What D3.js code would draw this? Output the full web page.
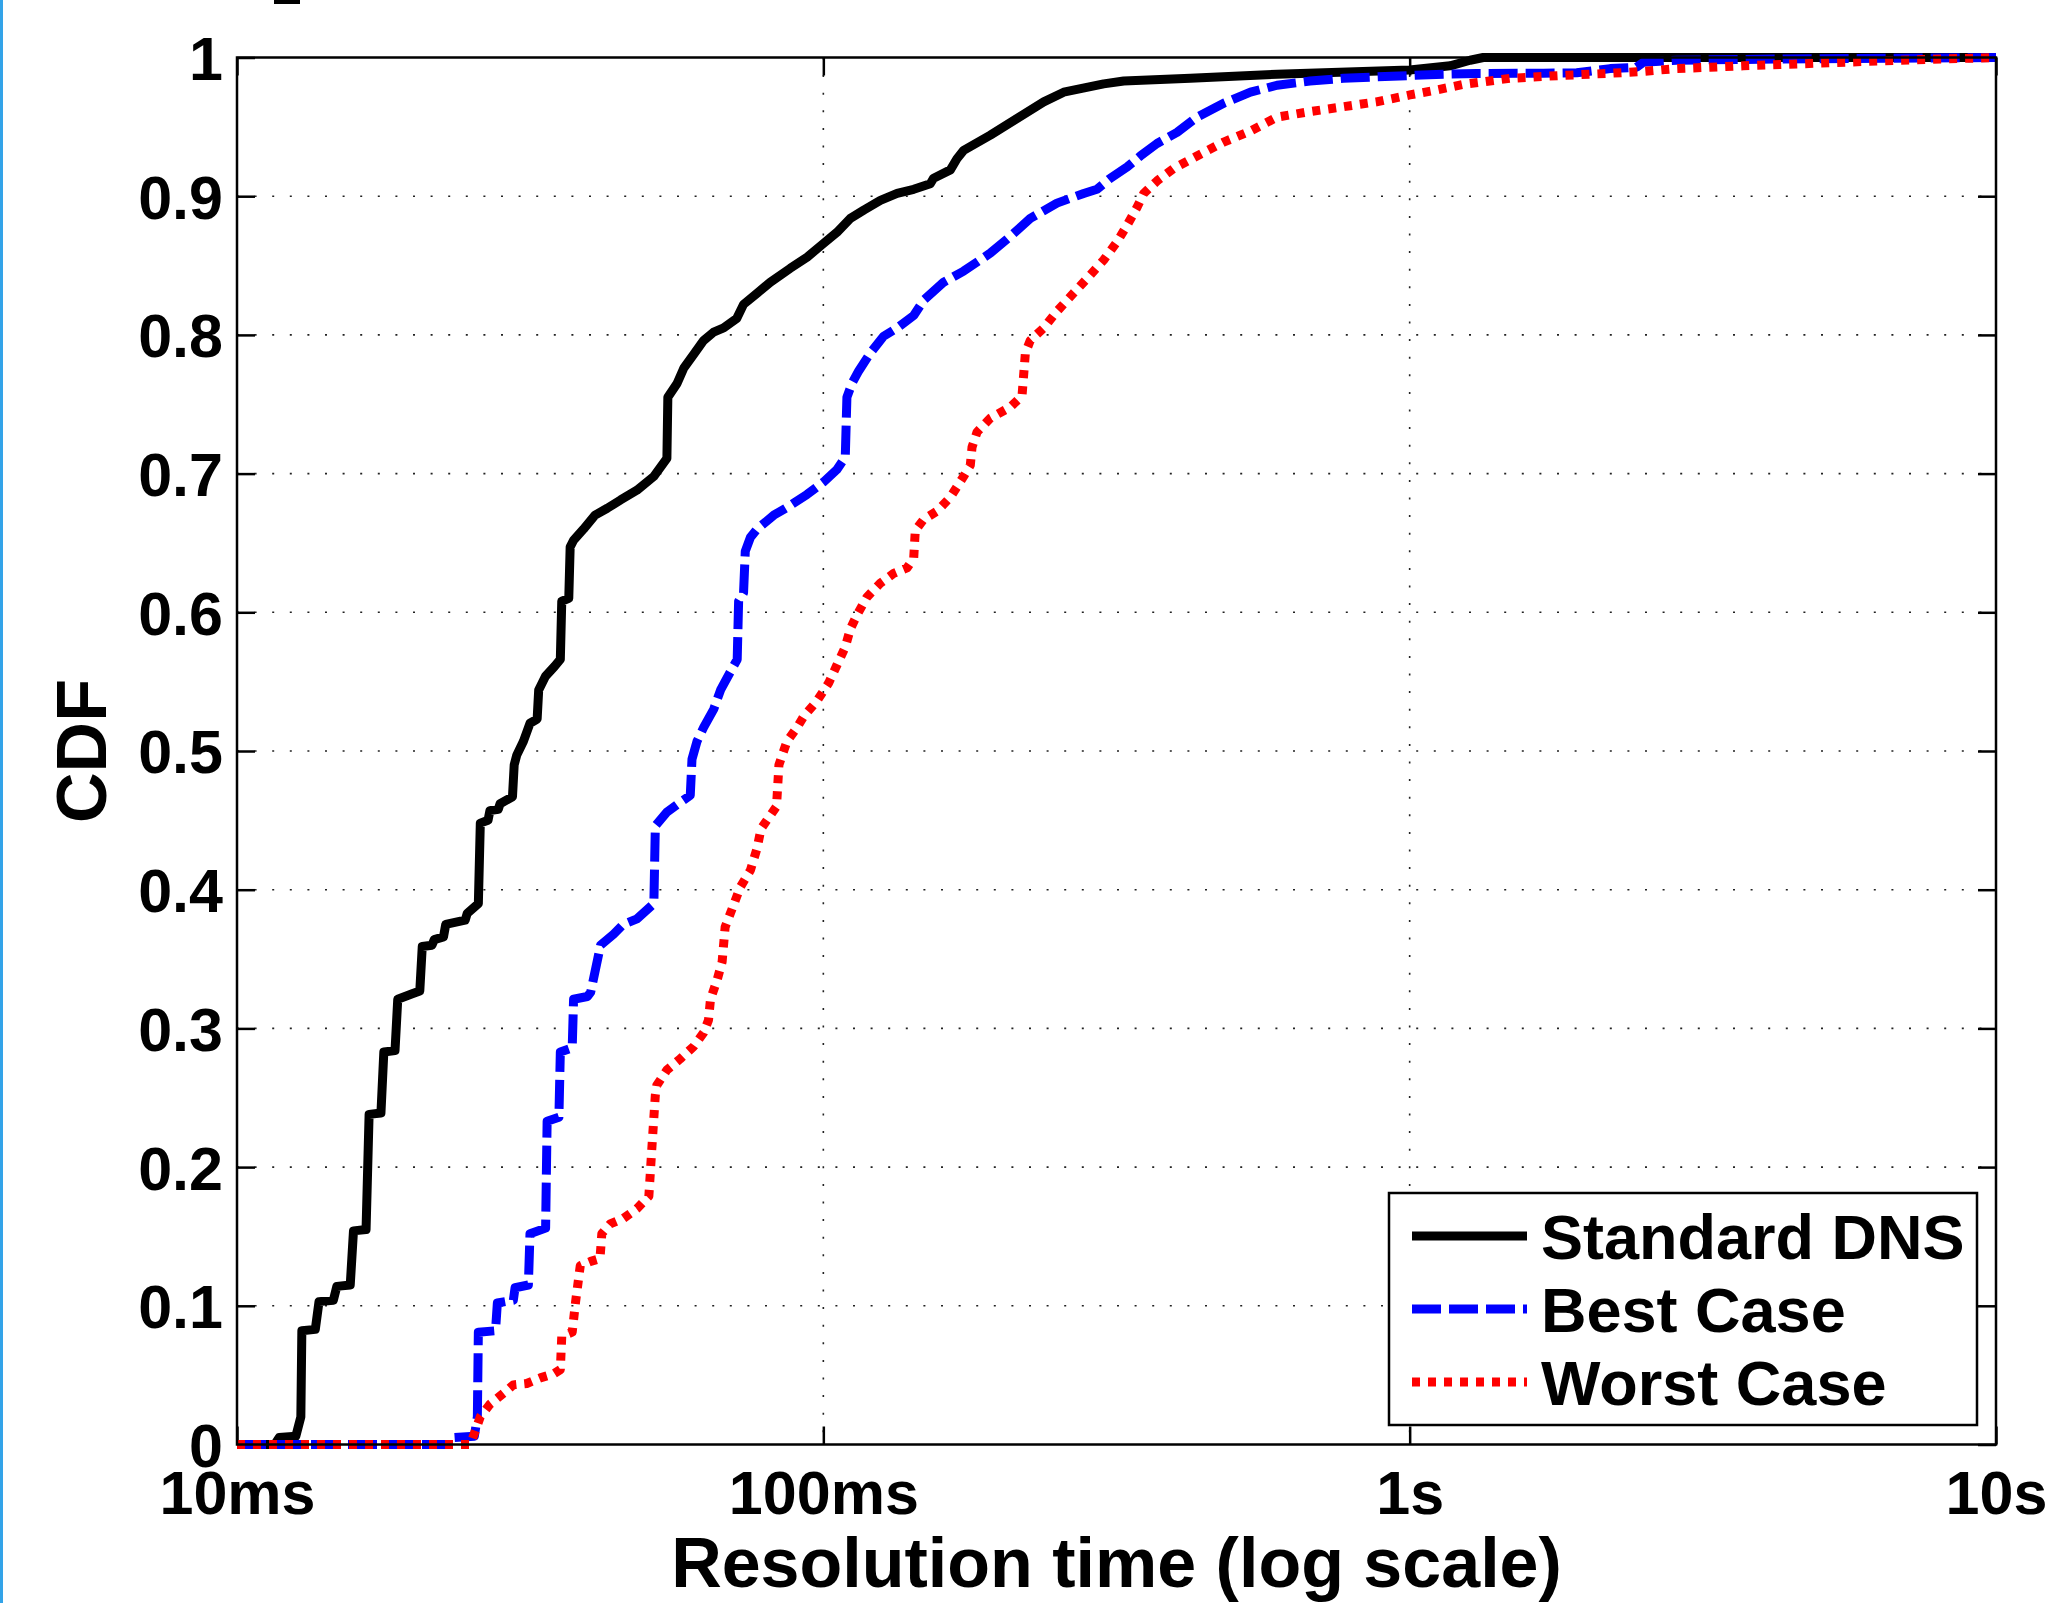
<!DOCTYPE html>
<html lang="en">
<head>
<meta charset="UTF-8">
<script src="https://d3js.org/d3.v7.min.js"></script>
<style>
  body { margin: 0; background: #fff; }
  svg { display: block; font-family: "Liberation Sans", Arial, sans-serif; font-weight: bold; }
  .grid line { stroke: #222; stroke-width: 1.6; stroke-dasharray: 2,15.6; }
  .axis path { display: none; }
  .axis line { stroke: #000; stroke-width: 2.5; }
  .axis text { font-size: 61px; fill: #000; font-family: "Liberation Sans", Arial, sans-serif; font-weight: bold; }
  .curve { fill: none; stroke-width: 9; stroke-linejoin: round; }
</style>
</head>
<body>
<script>
// ticks
var xTicks = [10, 100, 1000, 10000]; // ms
var xTickLabels = ["10ms", "100ms", "1s", "10s"];
var yTicks = [0, 0.1, 0.2, 0.3, 0.4, 0.5, 0.6, 0.7, 0.8, 0.9, 1];
var yTickLabels = ["0", "0.1", "0.2", "0.3", "0.4", "0.5", "0.6", "0.7", "0.8", "0.9", "1"];

var seriesNames = ["Standard DNS", "Best Case", "Worst Case"];
var seriesColors = ["#000000", "#0000ff", "#ff0000"];
var seriesDashes = [null, "29,8", "8,8"];

// [resolution time in ms, CDF]
var standardDns = [
  [10, 0], [11.6, 0], [11.8, 0.005], [12.6, 0.006], [12.85, 0.02], [12.9, 0.082], [13.6, 0.083],
  [13.8, 0.103], [14.6, 0.104], [14.8, 0.114], [15.6, 0.115], [15.8, 0.154], [16.6, 0.155],
  [16.8, 0.238], [17.6, 0.239], [17.8, 0.283], [18.6, 0.284], [18.8, 0.321], [19.9, 0.325],
  [20.5, 0.327], [20.7, 0.359], [21.5, 0.36], [21.7, 0.364], [22.5, 0.366], [22.7, 0.375],
  [24.5, 0.378], [24.7, 0.383], [25.8, 0.39], [26.0, 0.448], [26.8, 0.45], [27.0, 0.457],
  [27.9, 0.458], [28.1, 0.462], [29.5, 0.467], [29.7, 0.49], [30.0, 0.497], [30.8, 0.507],
  [31.6, 0.52], [32.5, 0.523], [32.7, 0.544], [33.6, 0.554], [34.8, 0.561], [35.6, 0.566], [35.8, 0.608],
  [36.8, 0.61], [37.0, 0.647], [37.5, 0.652], [39.0, 0.66], [40.8, 0.67], [42.8, 0.675],
  [45.1, 0.681], [48.1, 0.688], [51.4, 0.698], [54.1, 0.711], [54.3, 0.755], [56.3, 0.765],
  [57.8, 0.776], [60.1, 0.786], [62.5, 0.796], [65.0, 0.802], [67.6, 0.805], [71.2, 0.812],
  [73.1, 0.822], [77.1, 0.83], [81.2, 0.838], [87.8, 0.848], [93.8, 0.856], [100.1, 0.866],
  [105.5, 0.874], [111.2, 0.884], [117.2, 0.89], [125.1, 0.897], [133.6, 0.902], [142.6, 0.905],
  [152.2, 0.909], [154.2, 0.913], [164.7, 0.919], [169, 0.927], [173.5, 0.933], [192.7, 0.944],
  [219.6, 0.959], [237.6, 0.968], [257, 0.975], [300.7, 0.981], [325.3, 0.983], [422.6, 0.985],
  [594, 0.988], [1000, 0.991], [1172, 0.994], [1268, 0.998], [1335, 1.0], [10000, 1.0]
];

var bestCase = [
  [10, 0], [23.2, 0], [23.5, 0.005], [25.4, 0.006], [25.7, 0.02], [25.8, 0.081], [27.6, 0.082],
  [27.8, 0.102], [29.6, 0.104], [29.8, 0.113], [31.4, 0.115], [31.6, 0.152], [33.6, 0.156],
  [33.8, 0.233], [35.4, 0.236], [35.6, 0.283], [37.3, 0.286], [37.5, 0.321], [39.6, 0.323],
  [40.1, 0.326], [41.7, 0.36], [43.9, 0.368], [45.6, 0.375], [48.1, 0.379], [51.4, 0.39],
  [51.7, 0.446], [54.1, 0.456], [57.0, 0.463], [59.3, 0.468], [59.7, 0.494], [60.9, 0.507],
  [62.5, 0.517], [65.0, 0.53], [66.8, 0.544], [69.4, 0.557], [71.3, 0.566], [71.7, 0.608],
  [73.1, 0.614], [73.6, 0.644], [75.1, 0.654], [77.1, 0.66], [82.3, 0.67], [87.8, 0.677],
  [93.8, 0.685], [100.1, 0.694], [105.5, 0.703], [109, 0.712], [109.7, 0.755], [111.9, 0.765],
  [114.9, 0.774], [120.3, 0.787], [126.7, 0.799], [133.6, 0.805], [142.6, 0.814], [148.3, 0.825],
  [160.4, 0.838], [173.5, 0.846], [192.7, 0.859], [208.4, 0.871], [225.4, 0.884], [250.3, 0.895],
  [278, 0.902], [292.9, 0.905], [308.7, 0.913], [329.6, 0.921], [347.3, 0.929], [370.8, 0.938],
  [401.1, 0.946], [433.8, 0.957], [481.7, 0.967], [535.1, 0.975], [594, 0.98], [676, 0.983],
  [771, 0.985], [878, 0.986], [1001, 0.987], [1141, 0.988], [1301, 0.9885], [1690, 0.9886],
  [1927, 0.989], [2197, 0.992], [2439, 0.993], [2503, 0.9965], [2853, 0.998], [4339, 0.999],
  [10000, 1.0]
];

var worstCase = [
  [10, 0], [25.0, 0], [25.5, 0.01], [26.0, 0.02], [27.0, 0.029], [28.5, 0.037], [29.6, 0.043],
  [31.2, 0.044], [32.9, 0.048], [34.7, 0.051], [35.6, 0.054], [35.8, 0.078], [37.3, 0.081],
  [37.8, 0.103], [38.5, 0.129], [40.1, 0.132], [41.6, 0.134], [41.9, 0.152], [43.3, 0.159],
  [45.6, 0.163], [48.1, 0.17], [50.4, 0.179], [51.0, 0.214], [51.7, 0.252], [52.0, 0.259],
  [54.1, 0.27], [57.0, 0.278], [60.1, 0.287], [62.5, 0.297], [63.7, 0.306], [64.2, 0.321],
  [65.9, 0.335], [67.2, 0.348], [68.0, 0.373], [70.3, 0.389], [72.2, 0.402], [75.1, 0.414],
  [77.1, 0.43], [78.3, 0.444], [83.2, 0.46], [84.0, 0.49], [86.7, 0.507], [90.2, 0.517],
  [92.6, 0.525], [97.5, 0.536], [102.1, 0.549], [105.5, 0.562], [109, 0.575], [111.2, 0.588],
  [114.1, 0.598], [118.7, 0.611], [125.1, 0.621], [131.8, 0.628], [138.9, 0.632], [142.6, 0.639],
  [143.5, 0.659], [148.3, 0.667], [156.3, 0.673], [164.7, 0.683], [173.5, 0.698], [178.1, 0.706],
  [179.3, 0.719], [182.9, 0.73], [192.7, 0.74], [208.4, 0.748], [218.2, 0.756], [221.1, 0.787],
  [225.4, 0.796], [237.6, 0.805], [250.3, 0.817], [267, 0.83], [285, 0.843], [300.7, 0.854],
  [316.8, 0.867], [329.6, 0.879], [342.8, 0.892], [351.9, 0.902], [370.8, 0.911], [395.9, 0.92],
  [433.8, 0.929], [481.7, 0.939], [535.1, 0.947], [594, 0.957], [676, 0.961], [771, 0.9645],
  [878, 0.968], [1001, 0.973], [1112, 0.9766], [1235, 0.9806], [1483, 0.985], [1805, 0.987],
  [2197, 0.9886], [2503, 0.99], [2853, 0.992], [3253, 0.993], [3708, 0.994], [4339, 0.995],
  [6800, 0.998], [10000, 1.0]
];

var seriesValues = [standardDns, bestCase, worstCase];

// dimensions of the plot box
var margin = {top: 57.5, right: 55, bottom: 158.5, left: 237},
    width = 2051 - margin.left - margin.right,
    height = 1603 - margin.top - margin.bottom;

var svg = d3.select("body").append("svg")
    .attr("width", 2051)
    .attr("height", 1603);

// light blue strip on the left edge and the clipped mark at the top
svg.append("rect").attr("x", 0).attr("y", 0).attr("width", 3).attr("height", 1603).attr("fill", "#33a3e8");
svg.append("rect").attr("x", 274).attr("y", 0).attr("width", 26).attr("height", 4).attr("fill", "#000");

var g = svg.append("g")
    .attr("transform", "translate(" + margin.left + "," + margin.top + ")");

var x = d3.scaleLog().domain([10, 10000]).range([0, width]);
var y = d3.scaleLinear().domain([0, 1]).range([height, 0]);

// dotted grid
var grid = g.append("g").attr("class", "grid");
grid.selectAll(".gy")
    .data(yTicks.filter(function(d) { return d > 0 && d < 1; }))
  .enter().append("line")
    .attr("x1", 0).attr("x2", width)
    .attr("y1", function(d) { return y(d); })
    .attr("y2", function(d) { return y(d); });
grid.selectAll(".gx")
    .data(xTicks.filter(function(d) { return d > 10 && d < 10000; }))
  .enter().append("line")
    .attr("y1", 0).attr("y2", height)
    .attr("x1", function(d) { return x(d); })
    .attr("x2", function(d) { return x(d); });

// axes with inward ticks
g.append("g").attr("class", "axis")
    .call(d3.axisLeft(y).tickValues(yTicks)
        .tickFormat(function(d) { return yTickLabels[yTicks.indexOf(d)]; })
        .tickSize(-18).tickPadding(14))
    .selectAll("text").attr("dy", "0.36em");

g.append("g").attr("class", "axis")
    .attr("transform", "translate(0," + height + ")")
    .call(d3.axisBottom(x).tickValues(xTicks)
        .tickFormat(function(d) { return xTickLabels[xTicks.indexOf(d)]; })
        .tickSize(-18).tickPadding(26));

g.append("g").attr("class", "axis")
    .attr("transform", "translate(" + width + ",0)")
    .call(d3.axisRight(y).tickValues(yTicks).tickFormat("").tickSize(-18));

g.append("g").attr("class", "axis")
    .call(d3.axisTop(x).tickValues(xTicks).tickFormat("").tickSize(-18));

// curves
var line = d3.line()
    .x(function(d) { return x(d[0]); })
    .y(function(d) { return y(d[1]); });

seriesValues.forEach(function(vals, i) {
  g.append("path")
      .datum(vals)
      .attr("class", "curve")
      .attr("stroke", seriesColors[i])
      .attr("stroke-dasharray", seriesDashes[i])
      .attr("d", line);
});

// box
g.append("rect")
    .attr("width", width).attr("height", height)
    .attr("fill", "none").attr("stroke", "#000").attr("stroke-width", 2.5);

// axis titles
g.append("text")
    .attr("text-anchor", "middle")
    .attr("x", width / 2)
    .attr("y", 1587 - margin.top)
    .style("font-size", "70px")
    .text("Resolution time (log scale)");

g.append("text")
    .attr("text-anchor", "middle")
    .attr("transform", "translate(" + (106 - margin.left) + "," + (height / 2) + ")rotate(-90)")
    .style("font-size", "70px")
    .text("CDF");

// legend
var legend = svg.append("g").attr("transform", "translate(1389,1193)");
legend.append("rect")
    .attr("width", 588).attr("height", 232)
    .attr("fill", "#fff").attr("stroke", "#000").attr("stroke-width", 2.5);

seriesNames.forEach(function(name, i) {
  var ly = 43 + i * 73;
  legend.append("line")
      .attr("x1", 23).attr("x2", 138)
      .attr("y1", ly).attr("y2", ly)
      .attr("stroke", seriesColors[i])
      .attr("stroke-width", 9)
      .attr("stroke-dasharray", seriesDashes[i]);
  legend.append("text")
      .attr("x", 152)
      .attr("y", ly + 22.5)
      .style("font-size", "63px")
      .text(name);
});
</script>
</body>
</html>
